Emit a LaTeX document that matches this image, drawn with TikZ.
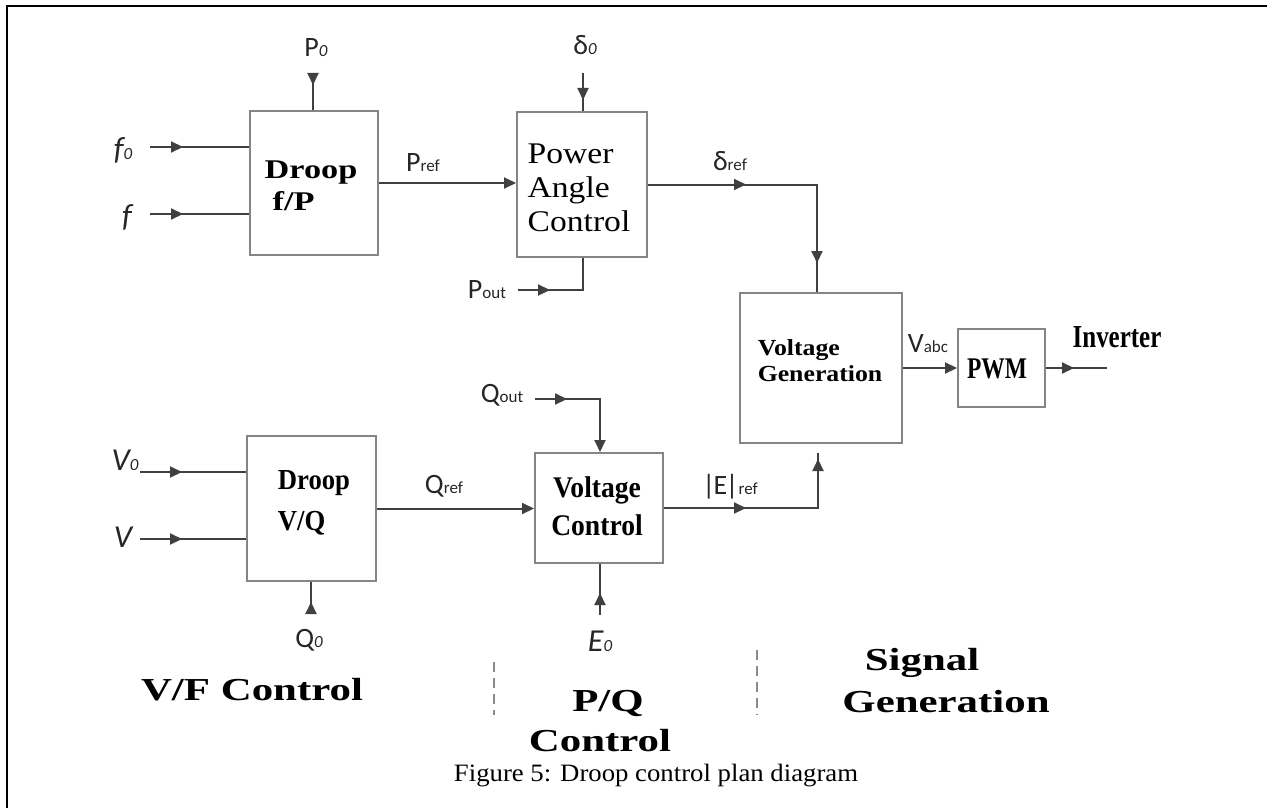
\documentclass[tikz,border=0pt]{standalone}
\usepackage{fontspec}
\setmainfont{Liberation Serif}
\newfontfamily\lsans{Carlito}
\newfontfamily\serifA{Liberation Serif}[FakeStretch=1.34]
\newfontfamily\serifB{Liberation Serif}[FakeStretch=1.27]
\newfontfamily\serifC{Liberation Serif}[FakeStretch=1.12]
\newfontfamily\serifD{Liberation Serif}[FakeStretch=0.92]
\newfontfamily\serifE{Liberation Serif}[FakeStretch=0.78]
\newfontfamily\serifF{Liberation Serif}[FakeStretch=1.07]
\usetikzlibrary{arrows.meta,decorations.markings}
\definecolor{boxgray}{HTML}{858585}
\definecolor{linegray}{HTML}{404040}
\definecolor{dashgray}{HTML}{8A8A8A}
\newcommand{\sbx}[1]{{\fontsize{8.5}{9}\selectfont #1}}
\tikzset{
  box/.style={draw=boxgray, line width=1pt, inner sep=0pt},
  conn/.style={draw=linegray, line width=1pt},
  tipA/.tip={Triangle[length=6pt,width=5.5pt]},
  endarr/.style={-{tipA}},
  midarr/.style={postaction={decorate}, decoration={markings, mark=at position #1 with {\arrow[linegray]{tipA}}}},
  midarrtwo/.style 2 args={postaction={decorate}, decoration={markings,
     mark=at position #1 with {\arrow[linegray]{tipA}},
     mark=at position #2 with {\arrow[linegray]{tipA}}}},
  lbl/.style={font=\lsans\fontsize{14}{16}\selectfont, inner sep=0pt, text=black!85},
  ilbl/.style={font=\lsans\itshape\fontsize{16}{18}\selectfont, inner sep=0pt, text=black!85},
  sepline/.style={draw=dashgray, line width=0.8pt, dash pattern=on 5pt off 3pt},
  sect/.style={font=\serifA\bfseries\fontsize{16}{19}\selectfont, inner sep=0pt},
}
\begin{document}
\begin{tikzpicture}[x=0.5pt,y=-0.5pt]
\useasboundingbox (0,0) rectangle (1267,808);
\draw[line width=1.3pt] (7,808) -- (7,6) -- (1267,6);

% boxes
\node[box, minimum width=64pt, minimum height=72pt] (dfp) at (314,183) {};
\node[box, minimum width=65pt, minimum height=72.5pt] (pac) at (582,184.5) {};
\node[box, minimum width=81pt, minimum height=75pt] (vg) at (821,368) {};
\node[box, minimum width=43.5pt, minimum height=39pt] (pwm) at (1001.5,368) {};
\node[box, minimum width=64.5pt, minimum height=72.5pt] (dvq) at (311.5,508.5) {};
\node[box, minimum width=64pt, minimum height=55pt] (vc) at (599,508) {};

% box texts
\node[font=\serifB\bfseries\fontsize{13.5}{16}\selectfont, align=left, inner sep=0pt] (dfpT) at (311,186) {Droop\\\hspace{4pt}f/P};
\node[font=\serifC\fontsize{15}{17}\selectfont, align=left, inner sep=0pt] (pacT) at (579,188) {Power\\Angle\\Control};
\node[font=\serifC\bfseries\fontsize{11.5}{13}\selectfont, align=left, inner sep=0pt] (vgT) at (820,361) {Voltage\\Generation};
\node[font=\serifE\bfseries\fontsize{15}{18}\selectfont, inner sep=0pt] (pwmT) at (997,369) {PWM};
\node[font=\serifD\bfseries\fontsize{14.5}{20.5}\selectfont, align=left, inner sep=0pt] (dvqT) at (314,503) {Droop\\V/Q};
\node[font=\serifD\bfseries\fontsize{15}{19}\selectfont, align=center, inner sep=0pt] (vcT) at (597,506) {Voltage\\Control};
\node[font=\serifE\bfseries\fontsize{16}{18}\selectfont, inner sep=0pt] (invT) at (1117,337) {Inverter};

% signal labels
\node[ilbl] (f0L) at (123,150) {f\sbx{0}};
\node[ilbl] (fL) at (127,217) {f};
\node[lbl] (p0L) at (316,48) {P\sbx{\itshape 0}};
\node[lbl] (d0L) at (585,45) {δ\sbx{\itshape 0}};
\node[lbl] (prefL) at (423,163) {P\sbx{ref}};
\node[lbl] (poutL) at (487,290) {P\sbx{out}};
\node[lbl] (drefL) at (730,161) {δ\sbx{ref}};
\node[lbl] (qoutL) at (502,395) {Q\sbx{out}};
\node[lbl] (qrefL) at (444,486) {Q\sbx{ref}};
\node[lbl] (erefL) at (730,487) {|\kern-0.8pt E\kern-0.8pt|\sbx{ref}};
\node[lbl] (vabcL) at (928,344) {V\sbx{abc}};
\node[ilbl] (v0L) at (125,460) {V\sbx{0}};
\node[ilbl] (vL) at (123,537) {V};
\node[lbl] (q0L) at (309,640) {Q\sbx{\itshape 0}};
\node[ilbl] (e0L) at (600,641) {E\sbx{0}};

% coordinates for free ends and corners
\coordinate (f0s) at (150,147);
\coordinate (f1s) at (150,214);
\coordinate (p0s) at (313,73);
\coordinate (d0s) at (583,73);
\coordinate (pos) at (518,290);
\coordinate (poc) at (583,290);
\coordinate (drc) at (817,184.5);
\coordinate (erc) at (818,508);
\coordinate (inve) at (1107,368);
\coordinate (qos) at (535,399);
\coordinate (qoc) at (600,399);
\coordinate (v0s) at (140,472);
\coordinate (v1s) at (140,539);
\coordinate (q0s) at (311,612);
\coordinate (e0s) at (600,615);

% connectors
\draw[conn, midarr=16.5pt] (f0s) -- (f0s -| dfp.west);
\draw[conn, midarr=16.5pt] (f1s) -- (f1s -| dfp.west);
\draw[conn, midarr=6pt] (p0s) -- (p0s |- dfp.north);
\draw[conn, endarr] (dfp.east) -- (dfp.east -| pac.west);
\draw[conn, midarr=13.5pt] (d0s) -- (d0s |- pac.north);
\draw[conn, midarr=16pt] (pos) -- (poc) -- (poc |- pac.south);
\draw[conn, midarrtwo={49pt}{123.75pt}] (pac.east) -- (drc) -- (drc |- vg.north);
\draw[conn, endarr] (vg.east) -- (vg.east -| pwm.west);
\draw[conn, midarr=14pt] (pwm.east) -- (inve);
\draw[conn, midarr=16pt, endarr] (qos) -- (qoc) -- (qoc |- vc.north);
\draw[conn, endarr] (dvq.east) -- (dvq.east -| vc.west);
\draw[conn, midarrtwo={41pt}{101.5pt}, shorten >=4.5pt] (vc.east) -- (erc) -- (erc |- vg.south);
\draw[conn, midarr=21pt] (v0s) -- (v0s -| dvq.west);
\draw[conn, midarr=21pt] (v1s) -- (v1s -| dvq.west);
\draw[conn, midarr=5pt] (q0s) -- (q0s |- dvq.south);
\draw[conn, midarr=11pt] (e0s) -- (e0s |- vc.south);

% separators
\draw[sepline] (494,662) -- (494,715);
\draw[sepline] (757,650) -- (757,715);

% section labels
\node[sect] (vfT) at (252,690) {V/F Control};
\node[sect] (pqT1) at (608,703) {P/Q};
\node[sect] (pqT2) at (600,741) {Control};
\node[sect] (sgT1) at (922,663) {Signal};
\node[sect] (sgT2) at (946,702) {Generation};

\node[font=\serifF\fontsize{12.5}{15}\selectfont, inner sep=0pt] (cap) at (656,776) {Figure 5: Droop control plan diagram};
\end{tikzpicture}
\end{document}
